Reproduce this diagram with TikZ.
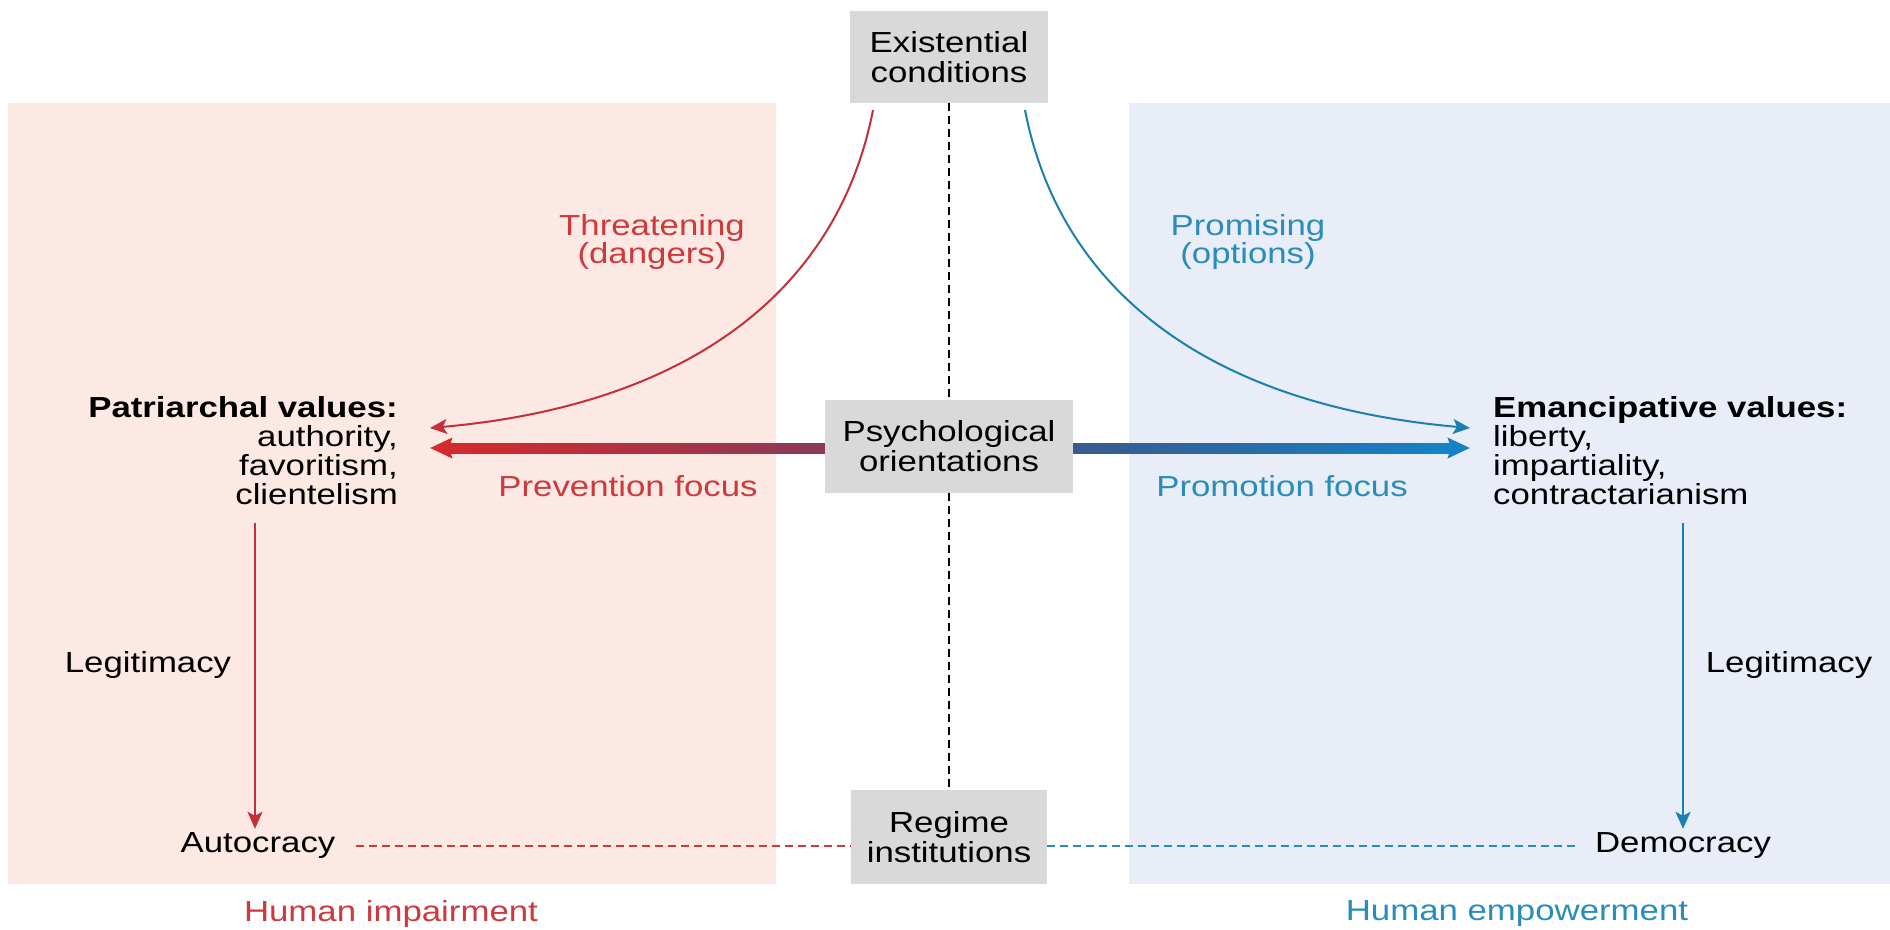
\documentclass[tikz,border=0pt]{standalone}
\usepackage{fontspec}
\setmainfont{Liberation Sans}[FakeStretch=1.2]
\usetikzlibrary{arrows.meta,calc}
\definecolor{pinkbg}{HTML}{FDE9E3}
\definecolor{bluebg}{HTML}{E9EDF7}
\definecolor{graybox}{HTML}{D9D9D9}
\definecolor{myred}{HTML}{CC3A3E}
\definecolor{myredline}{HTML}{C4303A}
\definecolor{myblue}{HTML}{2A8DB8}
\definecolor{mybluel}{HTML}{1A80AE}
\definecolor{redL}{HTML}{D42A2C}
\definecolor{redR}{HTML}{8A3A5A}
\definecolor{blueL}{HTML}{3A5A8E}
\definecolor{blueR}{HTML}{1582C6}
\begin{document}
\begin{tikzpicture}[x=1pt,y=-1pt,
  every node/.style={font=\fontsize{29}{30}\selectfont, inner sep=0pt},
  gbox/.style={fill=graybox, align=center},
  valblock/.style={font=\fontsize{29}{29}\selectfont},
  thinred/.style={draw=myredline, line width=2pt, -{Stealth[length=17pt,width=15pt,inset=4pt]}},
  thinblue/.style={draw=mybluel, line width=2pt, -{Stealth[length=17pt,width=15pt,inset=4pt]}},
  reddash/.style={draw=myred, line width=1.5pt, dash pattern=on 8pt off 5pt},
  bluedash/.style={draw=myblue, line width=1.5pt, dash pattern=on 8pt off 5pt},
  midline/.style={draw=black, line width=1.5pt, dash pattern=on 8pt off 5pt}
]
\useasboundingbox (0,0) rectangle (1890,929);
% backgrounds
\fill[pinkbg] (8,103) rectangle (776,884);
\fill[bluebg] (1129,103) rectangle (1890,884);

% boxes
\node[gbox, minimum width=198pt, minimum height=92pt] (ex) at (949,57) {Existential\\conditions};
\node[gbox, minimum width=248pt, minimum height=93pt] (psy) at (949,446) {Psychological\\orientations};
\node[gbox, minimum width=196pt, minimum height=94pt] (reg) at (949,837) {Regime\\institutions};

% value blocks
\node[valblock, anchor=east, align=right] (pat) at (398,451) {\textbf{Patriarchal values:}\\authority,\\favoritism,\\clientelism};
\node[valblock, anchor=west, align=left] (eman) at (1493,451) {\textbf{Emancipative values:}\\liberty,\\impartiality,\\contractarianism};

% labels
\node[text=myred, align=center, font=\fontsize{29}{28}\selectfont] (thr) at (652,242) {Threatening\\(dangers)};
\node[text=myblue, align=center, font=\fontsize{29}{28}\selectfont] (pro) at (1248,242) {Promising\\(options)};
\node[text=myred] (prev) at (628,486) {Prevention focus};
\node[text=myblue] (prom) at (1282,486) {Promotion focus};
\node (legl) at (148,665) {Legitimacy};
\node (legr) at (1789,665) {Legitimacy};
\node (auto) at (258,846) {Autocracy};
\node (dem) at (1683,846) {Democracy};
\node[text=myred] (himp) at (391,914) {Human impairment};
\node[text=myblue] (hemp) at (1517,914) {Human empowerment};

% coordinates
\coordinate (rs) at (873,110);
\coordinate (bs) at (1025,110);
\coordinate (patA) at (430,428);
\coordinate (emA) at (1470,428);
\coordinate (patB) at (430,448);
\coordinate (emB) at (1470,448);
\coordinate (lsrc) at (255,523);
\coordinate (rsrc) at (1683,523);

% center dashed line
\draw[midline] (ex.south) -- (psy.north);
\draw[midline] (psy.south) -- (reg.north);

% curved arrows
\draw[thinred] (rs) .. controls (838,290) and (690,405) .. (patA);
\draw[thinblue] (bs) .. controls (1060,290) and (1208,405) .. (emA);

% thick gradient arrows
\draw[draw=redL, line width=10pt, -{Stealth[length=22pt,width=20pt,inset=3pt]}] (psy.west |- patB) -- (patB);
\shade[left color=redL, right color=redR] ($(patB)+(20,-5)$) rectangle ($(psy.west |- patB)+(0,5)$);
\draw[draw=blueR, line width=10pt, -{Stealth[length=22pt,width=20pt,inset=3pt]}] (psy.east |- emB) -- (emB);
\shade[left color=blueL, right color=blueR] ($(psy.east |- emB)+(0,-5)$) rectangle ($(emB)+(-20,5)$);

% vertical legitimacy arrows
\draw[thinred, shorten >=4pt] (lsrc) -- (lsrc |- auto.north);
\draw[thinblue, shorten >=4pt] (rsrc) -- (rsrc |- dem.north);

% dashed regime lines
\draw[reddash, shorten <=20pt] (auto.east) -- (auto.east -| reg.west);
\draw[bluedash, shorten >=17pt] (dem.west -| reg.east) -- (dem.west);
\end{tikzpicture}
\end{document}
